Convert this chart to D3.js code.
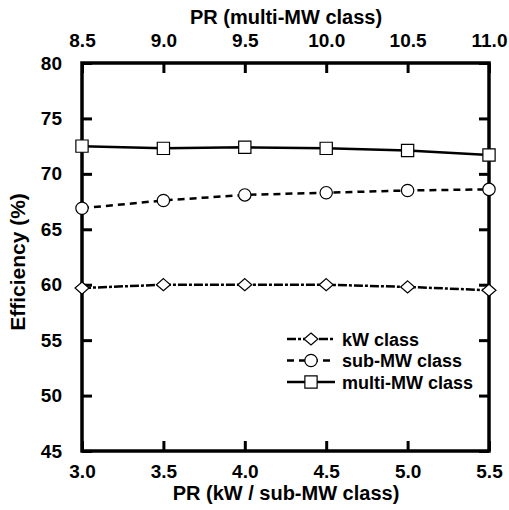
<!DOCTYPE html>
<html>
<head>
<meta charset="utf-8">
<script src="https://cdn.jsdelivr.net/npm/d3@7"></script>
<style>
    body { margin: 0; background: #fff; }
    text { font-family: "Liberation Sans", Arial, sans-serif; font-weight: bold; fill: #000; }
</style>
</head>
<body>
<div id="chart"></div>
<script>
var prLow = [3.0, 3.5, 4.0, 4.5, 5.0, 5.5];
var prHigh = [8.5, 9.0, 9.5, 10.0, 10.5, 11.0];
var kwClass = [59.7, 60.0, 60.0, 60.0, 59.8, 59.5];
var subMwClass = [66.9, 67.6, 68.1, 68.3, 68.5, 68.6];
var multiMwClass = [72.5, 72.3, 72.4, 72.3, 72.1, 71.7];
var yTicks = [45, 50, 55, 60, 65, 70, 75, 80];
var seriesNames = ['kW class', 'sub-MW class', 'multi-MW class'];

var w = 509, h = 510;
var padL = 82, padR = 489, padT = 63, padB = 451;

var svg = d3.select('#chart').append('svg')
    .attr('width', w)
    .attr('height', h);

var x = d3.scaleLinear().domain([3.0, 5.5]).range([padL, padR]);
var xTop = d3.scaleLinear().domain([8.5, 11.0]).range([padL, padR]);
var y = d3.scaleLinear().domain([45, 80]).range([padB, padT]);

function fmt(d) { return d.toFixed(1); }

// axes, ticks pointing inward
var axBottom = svg.append('g').attr('transform', 'translate(0,' + padB + ')')
    .call(d3.axisBottom(x).tickValues(prLow).tickSize(-10).tickPadding(14).tickFormat(fmt));
var axTop = svg.append('g').attr('transform', 'translate(0,' + padT + ')')
    .call(d3.axisTop(xTop).tickValues(prHigh).tickSize(-10).tickPadding(16).tickFormat(fmt));
var axLeft = svg.append('g').attr('transform', 'translate(' + padL + ',0)')
    .call(d3.axisLeft(y).tickValues(yTicks).tickSize(-10).tickPadding(20).tickFormat(d3.format('d')));
var axRight = svg.append('g').attr('transform', 'translate(' + padR + ',0)')
    .call(d3.axisRight(y).tickValues(yTicks).tickSize(-10).tickFormat(''));

[axBottom, axTop, axLeft, axRight].forEach(function (a) {
    a.select('.domain').remove();
    a.selectAll('line').attr('stroke', '#000').attr('stroke-width', 3);
    a.selectAll('text').style('font-size', '19px').attr('fill', '#000');
});

svg.append('rect')
    .attr('x', padL).attr('y', padT)
    .attr('width', padR - padL).attr('height', padB - padT)
    .attr('fill', 'none').attr('stroke', '#000').attr('stroke-width', 3.5);

// axis titles
svg.append('text').attr('x', 286).attr('y', 500)
    .attr('text-anchor', 'middle').style('font-size', '20px').text('PR (kW / sub-MW class)');
svg.append('text').attr('x', 286).attr('y', 24)
    .attr('text-anchor', 'middle').style('font-size', '20px').text('PR (multi-MW class)');
svg.append('text')
    .attr('transform', 'translate(25,262) rotate(-90)')
    .attr('text-anchor', 'middle').style('font-size', '21px').text('Efficiency (%)');

// diamond is squashed to look like the reference (wider than tall)
var diamondFix = ' scale(1.3,0.65)';
var series = [
    {name: seriesNames[0], values: kwClass, dash: '9,2,3,2', shape: d3.symbolDiamond, size: 100},
    {name: seriesNames[1], values: subMwClass, dash: '7,5', shape: d3.symbolCircle, size: 120},
    {name: seriesNames[2], values: multiMwClass, dash: null, shape: d3.symbolSquare, size: 150}
];

var line = d3.line()
    .x(function (d) { return x(d[0]); })
    .y(function (d) { return y(d[1]); });

series.forEach(function (s) {
    var pts = prLow.map(function (p, i) { return [p, s.values[i]]; });
    svg.append('path')
        .datum(pts)
        .attr('d', line)
        .attr('fill', 'none')
        .attr('stroke', '#000')
        .attr('stroke-width', 2.5)
        .attr('stroke-dasharray', s.dash);
    svg.selectAll(null).data(pts).enter().append('path')
        .attr('d', d3.symbol().type(s.shape).size(s.size))
        .attr('transform', function (d) {
            var r = s.shape === d3.symbolDiamond ? diamondFix : '';
            return 'translate(' + x(d[0]) + ',' + y(d[1]) + ')' + r;
        })
        .attr('fill', '#fff')
        .attr('stroke', '#000')
        .attr('stroke-width', 1.2)
        .attr('vector-effect', 'non-scaling-stroke');
});

// legend
var lg = svg.append('g').attr('transform', 'translate(287,339)');
series.forEach(function (s, i) {
    var row = lg.append('g').attr('transform', 'translate(0,' + i * 21.5 + ')');
    row.append('line')
        .attr('x1', 0).attr('x2', 48).attr('y1', 0).attr('y2', 0)
        .attr('stroke', '#000').attr('stroke-width', 2.5)
        .attr('stroke-dasharray', s.dash);
    row.append('path')
        .attr('d', d3.symbol().type(s.shape).size(s.size))
        .attr('transform', 'translate(24,0)' + (s.shape === d3.symbolDiamond ? diamondFix : ''))
        .attr('fill', '#fff').attr('stroke', '#000').attr('stroke-width', 1.2)
        .attr('vector-effect', 'non-scaling-stroke');
    row.append('text')
        .attr('x', 55).attr('y', 6.5)
        .style('font-size', '18px')
        .text(s.name);
});
</script>
</body>
</html>
